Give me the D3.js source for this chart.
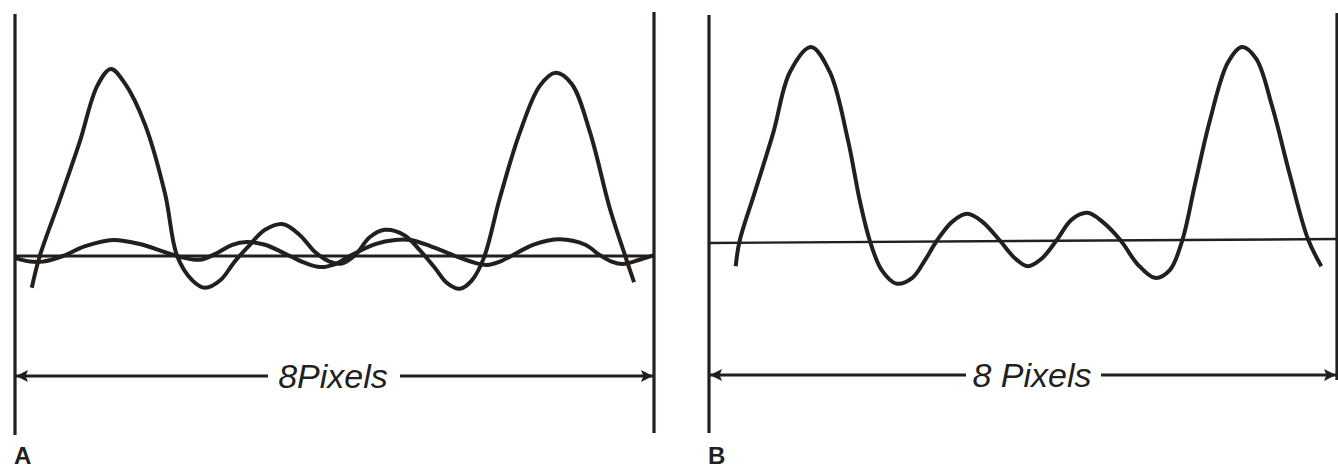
<!DOCTYPE html>
<html>
<head>
<meta charset="utf-8">
<script src="https://cdn.jsdelivr.net/npm/d3@7"></script>
<style>
  body { margin: 0; background: #fff; }
  svg { display: block; }
</style>
</head>
<body>
<div id="chart"></div>
<script>
// data: x in pixels (0..8), y as relative amplitude (peak = 1)
var bigAX = [0.21, 0.31, 0.56, 0.81, 1.03, 1.20, 1.38, 1.63, 1.88, 2.03, 2.22, 2.38, 2.57, 2.75, 2.94, 3.13, 3.36, 3.57, 3.76, 3.94, 4.09, 4.26, 4.44, 4.63, 4.88, 5.07, 5.26, 5.41, 5.57, 5.72, 5.87, 6.07, 6.32, 6.57, 6.77, 6.97, 7.20, 7.45, 7.64, 7.75];
var bigAY = [-0.17, 0.0, 0.30, 0.61, 0.91, 1.0, 0.92, 0.70, 0.33, 0.0, -0.13, -0.17, -0.13, -0.03, 0.06, 0.14, 0.17, 0.11, 0.02, -0.03, -0.04, 0.005, 0.10, 0.14, 0.11, 0.03, -0.065, -0.145, -0.175, -0.13, -0.01, 0.31, 0.66, 0.91, 0.98, 0.92, 0.66, 0.25, 0.0, -0.14];

var smallAX = [0.0, 0.19, 0.35, 0.60, 0.88, 1.23, 1.56, 1.88, 2.07, 2.32, 2.53, 2.72, 2.90, 3.13, 3.44, 3.63, 3.82, 4.01, 4.19, 4.51, 4.76, 4.95, 5.20, 5.51, 5.76, 5.91, 6.07, 6.28, 6.51, 6.82, 7.14, 7.32, 7.47, 7.61, 7.82, 8.0];
var smallAY = [-0.01, -0.03, -0.03, 0.0, 0.053, 0.086, 0.064, 0.02, -0.005, -0.02, 0.016, 0.06, 0.075, 0.06, 0.0, -0.037, -0.059, -0.043, 0.0, 0.064, 0.086, 0.086, 0.053, 0.0, -0.037, -0.048, -0.03, 0.016, 0.064, 0.09, 0.06, 0.005, -0.03, -0.043, -0.02, 0.005];

var curveBX = [0.34, 0.39, 0.59, 0.82, 1.03, 1.30, 1.54, 1.77, 1.92, 2.05, 2.20, 2.39, 2.59, 2.75, 2.90, 3.10, 3.29, 3.48, 3.71, 3.90, 4.06, 4.24, 4.43, 4.62, 4.82, 5.01, 5.24, 5.46, 5.68, 5.87, 6.03, 6.19, 6.38, 6.61, 6.79, 6.97, 7.17, 7.40, 7.63, 7.80];
var curveBY = [-0.13, 0.0, 0.26, 0.56, 0.87, 1.0, 0.87, 0.52, 0.21, 0.0, -0.15, -0.22, -0.19, -0.10, 0.0, 0.10, 0.14, 0.10, 0.0, -0.09, -0.13, -0.09, 0.005, 0.11, 0.145, 0.10, 0.005, -0.12, -0.19, -0.15, 0.005, 0.29, 0.62, 0.92, 1.0, 0.94, 0.70, 0.34, 0.01, -0.13];

var baseBY = [-0.01, 0.01];   // baseline of B drifts up a little to the right
var spanLabels = ["8Pixels", "8 Pixels"];
var panelLabels = ["A", "B"];

var ink = "#231f1d";
var W = 1338, H = 469;

var svg = d3.select("#chart")
  .append("svg")
    .attr("width", W)
    .attr("height", H);

// arrowhead
svg.append("defs").append("marker")
    .attr("id", "head")
    .attr("viewBox", "0 0 10 10")
    .attr("refX", 10)
    .attr("refY", 5)
    .attr("markerWidth", 18)
    .attr("markerHeight", 12)
    .attr("markerUnits", "userSpaceOnUse")
    .attr("orient", "auto-start-reverse")
  .append("path")
    .attr("d", "M0,0 L10,5 L0,10 L2,5 Z")
    .attr("fill", ink);

// one panel per diagram
var panels = [
  { x: d3.scaleLinear().domain([0, 8]).range([15, 654]),
    y: d3.scaleLinear().domain([0, 1]).range([256, 69]),
    curves: [[bigAX, bigAY], [smallAX, smallAY]],
    base: [0, 0], baseW: 3.2, top: 14, bottom: 435, arrowY: 376,
    gap: [268, 400], textX: 333, label: 0, rightBottom: 433 },
  { x: d3.scaleLinear().domain([0, 8]).range([709, 1337]),
    y: d3.scaleLinear().domain([0, 1]).range([241, 47]),
    curves: [[curveBX, curveBY]],
    base: baseBY, baseW: 2.4, top: 15, bottom: 433, arrowY: 375,
    gap: [966, 1101], textX: 1032, label: 1, rightBottom: 380 }
];

panels.forEach(function(p) {
  var g = svg.append("g");

  // side bars at 0 and 8 pixels
  g.append("line")
      .attr("x1", p.x(0)).attr("x2", p.x(0))
      .attr("y1", p.top).attr("y2", p.bottom)
      .attr("stroke", ink).attr("stroke-width", 3.2);
  g.append("line")
      .attr("x1", p.x(8)).attr("x2", p.x(8))
      .attr("y1", p.top - 2).attr("y2", p.rightBottom)
      .attr("stroke", ink).attr("stroke-width", 3.2);

  // baseline
  g.append("line")
      .attr("x1", p.x(0)).attr("x2", p.x(8))
      .attr("y1", p.y(p.base[0])).attr("y2", p.y(p.base[1]))
      .attr("stroke", ink).attr("stroke-width", p.baseW);

  // curves
  var line = d3.line()
      .x(function(d) { return p.x(d[0]); })
      .y(function(d) { return p.y(d[1]); })
      .curve(d3.curveCatmullRom.alpha(0.5));

  p.curves.forEach(function(c) {
    var pts = c[0].map(function(v, i) { return [v, c[1][i]]; });
    g.append("path")
        .datum(pts)
        .attr("d", line)
        .attr("fill", "none")
        .attr("stroke", ink)
        .attr("stroke-width", 4)
        .attr("stroke-linejoin", "round");
  });

  // dimension arrow, split round the text
  g.append("line")
      .attr("x1", p.gap[0]).attr("x2", p.x(0) + 1)
      .attr("y1", p.arrowY).attr("y2", p.arrowY)
      .attr("stroke", ink).attr("stroke-width", 3)
      .attr("marker-end", "url(#head)");
  g.append("line")
      .attr("x1", p.gap[1]).attr("x2", p.x(8) - 1)
      .attr("y1", p.arrowY).attr("y2", p.arrowY)
      .attr("stroke", ink).attr("stroke-width", 3)
      .attr("marker-end", "url(#head)");

  g.append("text")
      .attr("x", p.textX)
      .attr("y", p.arrowY + 12)
      .attr("text-anchor", "middle")
      .style("font-family", "'Liberation Sans', Arial, sans-serif")
      .style("font-style", "italic")
      .style("font-size", "34px")
      .attr("fill", ink)
      .text(spanLabels[p.label]);

  g.append("text")
      .attr("x", p.x(0) - 1)
      .attr("y", 464)
      .style("font-family", "'Liberation Sans', Arial, sans-serif")
      .style("font-weight", "bold")
      .style("font-size", "24px")
      .attr("fill", ink)
      .text(panelLabels[p.label]);
});
</script>
</body>
</html>
